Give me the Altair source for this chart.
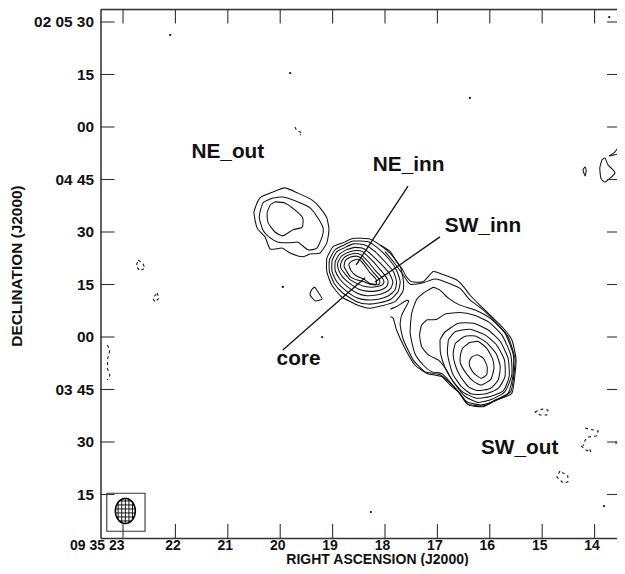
import altair as alt
import numpy as np
import pandas as pd

# Sky coordinates: RA in seconds of 09 35 xx, Dec in arcsec relative to 02 04 00
ra_ticks = [23, 22, 21, 20, 19, 18, 17, 16, 15, 14]
dec_ticks = [90, 75, 60, 45, 30, 15, 0, -15, -30, -45]
dec_tick_labels = ["02 05 30\u2005", "15", "00", "04 45\u2005", "30", "15", "00", "03 45\u2005", "30", "15"]
ra_tick_labels = ["09 35 23", "22", "21", "20", "19", "18", "17", "16", "15", "14"]
ra_domain = [23.43, 13.572]
dec_domain = [-57.43, 93.57]

out_outer = [(20.14,41.4),(19.91,42.6),(19.66,41.1),(19.39,39.1),(19.24,36.9),(19.11,34.0),(19.07,30.6),(19.11,26.9),(19.24,24.0),(19.43,23.7),(19.58,22.9),(19.81,24.0),(19.97,25.4),(20.19,25.1),(20.29,28.6),(20.44,31.1),(20.50,35.7),(20.39,39.7),(20.14,41.4)]
out_mid = [(20.14,39.7),(19.95,40.0),(19.66,38.6),(19.43,36.9),(19.28,34.0),(19.18,31.1),(19.20,28.6),(19.30,25.4),(19.47,24.9),(19.66,27.1),(19.81,26.9),(20.04,27.1),(20.19,28.3),(20.33,30.6),(20.40,34.3),(20.33,38.3),(20.14,39.7)]
out_inner = [(20.10,38.6),(19.91,38.3),(19.72,36.3),(19.57,34.0),(19.58,31.4),(19.76,30.6),(19.95,28.9),(20.10,30.0),(20.23,32.6),(20.25,35.4),(20.19,37.7),(20.10,38.6)]
knot = [(19.34,14.3),(19.28,12.9),(19.20,10.9),(19.33,10.3),(19.43,12.0),(19.39,13.7),(19.34,14.3)]

ring9 = [(18.80,26.9),(18.60,28.2),(18.29,28.0),(18.10,26.3),(17.87,23.4),(17.71,20.1),(17.65,16.3),(17.66,13.0),(17.81,10.1),(18.06,8.9),(18.29,8.2),(18.54,9.2),(18.83,11.5),(19.02,14.9),(19.11,18.7),(19.11,22.5),(18.99,25.8),(18.80,26.9)]
ring8 = [(18.78,26.3),(18.60,27.4),(18.32,27.2),(18.13,25.3),(17.94,22.5),(17.78,19.1),(17.71,15.8),(17.75,13.0),(17.89,10.8),(18.10,9.8),(18.32,9.4),(18.54,10.1),(18.80,12.5),(18.97,15.3),(19.06,18.7),(19.06,22.0),(18.95,25.0),(18.78,26.3)]
ring7 = [(18.76,25.6),(18.60,26.6),(18.38,26.3),(18.19,24.4),(18.00,21.5),(17.84,18.7),(17.78,15.8),(17.81,13.4),(17.94,11.7),(18.13,10.8),(18.35,10.6),(18.54,11.2),(18.76,13.4),(18.92,15.8),(19.01,18.7),(19.01,21.7),(18.92,24.4),(18.76,25.6)]
ring6 = [(18.74,24.9),(18.58,25.6),(18.41,25.3),(18.25,23.4),(18.06,20.6),(17.92,18.2),(17.85,15.8),(17.89,13.9),(18.00,12.7),(18.16,12.0),(18.35,11.8),(18.53,12.5),(18.72,14.4),(18.86,16.5),(18.95,19.0),(18.95,21.5),(18.87,23.7),(18.74,24.9)]
ring5 = [(18.72,24.1),(18.57,24.7),(18.43,24.4),(18.29,22.5),(18.13,19.9),(17.99,17.4),(17.94,15.8),(17.97,14.4),(18.06,13.6),(18.19,13.1),(18.35,13.1),(18.51,13.7),(18.67,15.3),(18.81,17.2),(18.89,19.3),(18.90,21.3),(18.83,23.1),(18.72,24.1)]
ring4 = [(18.70,23.4),(18.57,23.9),(18.45,23.4),(18.32,21.5),(18.19,19.1),(18.06,17.0),(18.02,15.8),(18.05,14.9),(18.15,14.4),(18.25,14.2),(18.38,14.4),(18.51,15.1),(18.66,16.3),(18.76,18.0),(18.84,19.6),(18.84,21.2),(18.78,22.7),(18.70,23.4)]
ring3 = [(18.67,22.8),(18.55,23.1),(18.45,22.5),(18.34,20.6),(18.22,18.4),(18.11,16.5),(18.10,15.3),(18.16,14.9),(18.29,15.1),(18.40,15.8),(18.53,16.3),(18.66,17.2),(18.73,18.7),(18.78,20.1),(18.76,21.8),(18.67,22.8)]
ring1 = [(18.62,21.8),(18.51,22.2),(18.41,20.9),(18.29,18.4),(18.17,16.5),(18.17,15.1),(18.29,15.3),(18.40,16.5),(18.55,17.5),(18.65,19.0),(18.69,20.8),(18.62,21.8)]

sw1 = [(18.09,26.3),(17.90,24.4),(17.78,21.5),(17.68,19.6),(17.59,17.2),(17.49,15.8),(17.27,15.8),(17.08,18.7),(16.92,18.0),(16.63,16.3),(16.50,14.4),(16.38,12.0),(16.19,9.1),(15.96,5.8),(15.74,2.5),(15.58,-0.8),(15.50,-6.1),(15.52,-10.8),(15.58,-16.1),(15.87,-18.0),(16.12,-19.9),(16.41,-19.4),(16.57,-16.1),(16.76,-13.7),(16.92,-11.3),(17.20,-10.4),(17.43,-8.0),(17.62,-3.2),(17.78,2.0),(17.84,5.3),(17.90,5.8)]
sw2 = [(18.00,24.4),(17.84,21.5),(17.65,17.7),(17.52,15.1),(17.27,15.5),(17.08,16.5),(16.95,16.3),(16.57,13.9),(16.38,10.6),(16.12,7.7),(15.87,3.9),(15.65,0.1),(15.52,-6.1),(15.54,-10.8),(15.60,-15.6),(15.87,-17.8),(16.12,-19.7),(16.43,-19.1),(16.60,-15.6),(16.79,-12.7),(16.95,-10.8),(17.24,-9.9),(17.46,-6.6),(17.65,-0.8),(17.71,3.4),(17.68,6.3),(17.55,10.1),(17.59,10.4),(17.78,8.7),(17.90,7.9)]
sw3 = [(17.08,14.2),(16.95,13.4),(16.79,11.1),(16.57,9.1),(16.28,7.7),(15.99,5.3),(15.71,1.1),(15.55,-5.1),(15.56,-11.3),(15.65,-16.1),(15.90,-18.2),(16.16,-19.4),(16.44,-18.5),(16.63,-15.1),(16.82,-11.8),(16.92,-10.4),(17.11,-9.9),(17.27,-8.0),(17.43,-4.7),(17.52,1.1),(17.49,6.8),(17.40,10.6),(17.27,12.5),(17.08,14.2)]
sw4 = [(17.20,4.9),(17.01,5.1),(16.85,6.6),(16.57,7.0),(16.31,6.3),(16.03,4.4),(15.77,0.6),(15.60,-5.1),(15.58,-10.8),(15.71,-15.6),(15.96,-17.8),(16.22,-18.7),(16.47,-17.0),(16.70,-12.7),(16.85,-8.9),(16.98,-6.6),(17.17,-5.1),(17.30,-2.8),(17.34,0.6),(17.30,3.4),(17.20,4.9)]
sw5 = [(16.95,-0.8),(16.85,1.5),(16.60,3.9),(16.31,3.9),(16.03,2.0),(15.80,-1.3),(15.65,-6.1),(15.63,-11.3),(15.74,-15.3),(15.99,-17.0),(16.25,-17.5),(16.50,-15.9),(16.70,-12.7),(16.85,-8.9),(16.94,-4.7),(16.95,-0.8)]
sw6 = [(16.79,-0.8),(16.66,1.5),(16.38,2.2),(16.09,0.6),(15.87,-2.3),(15.72,-6.6),(15.71,-11.3),(15.84,-14.7),(16.09,-16.3),(16.35,-16.3),(16.54,-14.2),(16.70,-10.8),(16.77,-7.5),(16.81,-4.2),(16.79,-0.8)]
sw7 = [(16.66,-1.8),(16.49,0.1),(16.28,0.3),(16.06,-1.6),(15.88,-4.7),(15.80,-8.5),(15.84,-12.3),(15.99,-14.7),(16.24,-15.3),(16.41,-14.2),(16.56,-11.3),(16.66,-8.0),(16.70,-4.7),(16.66,-1.8)]
sw8 = [(16.52,-3.2),(16.38,-1.6),(16.22,-1.3),(16.06,-3.2),(15.95,-6.1),(15.92,-8.9),(15.98,-12.1),(16.16,-13.7),(16.31,-12.7),(16.45,-10.4),(16.56,-7.5),(16.56,-5.1),(16.52,-3.2)]
sw9 = [(16.35,-5.8),(16.24,-5.1),(16.12,-6.1),(16.05,-8.5),(16.06,-10.8),(16.17,-11.8),(16.30,-10.4),(16.38,-8.5),(16.39,-7.0),(16.35,-5.8)]

east_a = [(13.86,50.6),(13.80,51.1),(13.74,49.1),(13.61,46.9),(13.80,44.3),(13.88,45.4),(13.90,48.3),(13.86,50.6)]
east_b = [(13.72,51.7),(13.61,52.9),(13.48,55.7)]
east_c = [(13.72,51.7),(13.46,52.6)]
east_d = [(13.46,47.1),(13.52,45.7),(13.46,44.3)]
east_e = [(14.18,48.6),(14.22,47.7),(14.18,46.0),(14.16,47.7),(14.18,48.6)]

neg1 = [(22.71,22.0),(22.62,20.9),(22.58,19.7),(22.68,18.9),(22.75,20.3),(22.71,22.0)]
neg2 = [(22.35,12.6),(22.31,11.1),(22.39,10.0),(22.43,11.1),(22.35,12.6)]
neg3 = [(23.30,-2.3),(23.25,-3.7),(23.29,-6.0),(23.30,-8.9),(23.25,-10.9),(23.30,-12.3)]
neg4 = [(15.14,-21.4),(15.00,-20.6),(14.89,-20.9),(14.91,-22.3),(15.04,-22.3),(15.14,-21.4)]
neg5 = [(14.18,-26.0),(13.93,-26.9),(13.97,-28.3),(14.14,-28.6),(14.20,-30.0),(14.22,-31.1)]
neg6 = [(14.26,-31.1),(14.16,-32.3),(14.07,-32.9),(14.11,-31.4)]
neg7 = [(14.66,-38.3),(14.72,-40.0),(14.60,-41.7),(14.51,-41.4),(14.51,-39.7),(14.66,-38.3)]
neg8 = [(19.72,60.0),(19.68,58.9),(19.58,58.3),(19.62,57.7)]
neg9 = [(13.59,-29.7),(13.59,-31.1)]

dots_ra = [22.10, 19.81, 19.20, 18.27, 13.82, 16.38, 13.72, 19.95]
dots_dec = [86.3, 75.4, 0.0, -50.0, -48.3, 68.3, 91.4, 14.3]

names = ["NE_out", "NE_inn", "SW_inn", "core", "SW_out"]
names_ra = [21.00, 17.55, 16.13, 19.65, 15.43]
names_dec = [52.9, 49.1, 31.7, -6.3, -31.7]

leader_ra = [17.56, 16.95, 18.38]
leader_dec = [43.1, 28.6, 16.9]
leader_ra2 = [18.55, 18.19, 19.95]
leader_dec2 = [20.6, 15.7, -3.7]

beam_box_ra = [23.31, 22.58]
beam_box_dec = [-44.66, -55.5]
beam_ra, beam_dec = 22.956, -49.7
beam_semi_ra, beam_semi_dec = 0.19, 3.57

solid = dict(out_outer=out_outer, out_mid=out_mid, out_inner=out_inner, knot=knot,
             ring9=ring9, ring8=ring8, ring7=ring7, ring6=ring6, ring5=ring5, ring4=ring4, ring3=ring3, ring1=ring1,
             sw1=sw1, sw2=sw2, sw3=sw3, sw4=sw4, sw5=sw5, sw6=sw6, sw7=sw7, sw8=sw8, sw9=sw9,
             east_a=east_a, east_b=east_b, east_c=east_c, east_d=east_d, east_e=east_e)
dashed = dict(neg1=neg1, neg2=neg2, neg3=neg3, neg4=neg4, neg5=neg5, neg6=neg6, neg7=neg7, neg8=neg8, neg9=neg9)


def frame(contours):
    rows = []
    for name, pts in contours.items():
        for i, (r, d) in enumerate(pts):
            rows.append(dict(c=name, i=i, ra=r, dec=d))
    return pd.DataFrame(rows)


FONT = "Liberation Sans"
INK = "#111111"
xs = alt.Scale(domain=ra_domain, nice=False, zero=False)
ys = alt.Scale(domain=dec_domain, nice=False, zero=False)
dec_top, dec_bot = dec_domain[1], dec_domain[0]

ra_expr = "[" + ",".join(f'"{t}"' for t in ra_tick_labels) + "][indexof(" + str(ra_ticks) + ",datum.value)]"
dec_expr = "[" + ",".join(f'"{t}"' for t in dec_tick_labels) + "][indexof(" + str(dec_ticks) + ",datum.value)]"

x_axis = alt.Axis(values=ra_ticks, labelExpr=ra_expr, grid=False, ticks=False, tickSize=0,
                  domainColor="#333333", domainWidth=1.5, labelFont=FONT, labelFontWeight="bold",
                  labelFontSize=14.0, labelColor=INK, labelPadding=0, labelOverlap=False, labelFlush=False,
                  labelAlign={"condition": {"test": "datum.value == 23", "value": "right"}, "value": "center"},
                  labelOffset={"condition": {"test": "datum.value == 23", "value": 1}, "value": -3},
                  title="RIGHT ASCENSION (J2000)", titleFont=FONT, titleFontWeight="bold", titleFontSize=14.0,
                  titleColor=INK, titlePadding=0, titleY=14, titleX=276.5)
y_axis = alt.Axis(values=dec_ticks, labelExpr=dec_expr, grid=False, ticks=False, tickSize=0,
                  domainColor="#333333", domainWidth=1.5, labelFont=FONT, labelFontWeight="bold",
                  labelFontSize=15.4, labelColor=INK, labelPadding=7, labelOverlap=False, labelFlush=False,
                  title="DECLINATION (J2000)", titleFont=FONT, titleFontWeight="bold", titleFontSize=15.4,
                  titleColor=INK, titleX=-76, titleY=256)

X = alt.X("ra:Q", scale=xs, axis=x_axis)
Y = alt.Y("dec:Q", scale=ys, axis=y_axis)

solid_layer = alt.Chart(frame(solid)).mark_line(color=INK, strokeWidth=1.05, clip=True,
                                                interpolate="cardinal", tension=0.45).encode(
    x=X, y=Y, detail="c:N", order="i:Q")
dashed_layer = alt.Chart(frame(dashed)).mark_line(color=INK, strokeWidth=1.05, strokeDash=[3, 3], clip=True).encode(
    x=X, y=Y, detail="c:N", order="i:Q")
dots_layer = alt.Chart(pd.DataFrame(dict(ra=dots_ra, dec=dots_dec))).mark_circle(color=INK, size=5, opacity=1).encode(x=X, y=Y)

names_layer = alt.Chart(pd.DataFrame(dict(ra=names_ra, dec=names_dec, t=names))).mark_text(
    font=FONT, fontWeight="bold", fontSize=20.8, color=INK).encode(x=X, y=Y, text="t:N")

leaders = alt.Chart(pd.DataFrame(dict(ra=leader_ra, dec=leader_dec, ra2=leader_ra2, dec2=leader_dec2))).mark_rule(
    color=INK, strokeWidth=1.3).encode(x=X, y=Y, x2="ra2:Q", y2="dec2:Q")

# Inward ticks and the top of the frame
tick_dec = 4.0
tick_ra = 0.267
tick_ra_right = 0.19
top_ticks = pd.DataFrame(dict(ra=ra_ticks, dec=dec_top, dec2=dec_top - tick_dec))
bot_ticks = pd.DataFrame(dict(ra=ra_ticks, dec=dec_bot, dec2=dec_bot + tick_dec))
left_ticks = pd.DataFrame(dict(dec=dec_ticks, ra=ra_domain[0], ra2=ra_domain[0] - tick_ra))
right_ticks = pd.DataFrame(dict(dec=dec_ticks, ra=ra_domain[1], ra2=ra_domain[1] + tick_ra_right))
top_edge = pd.DataFrame(dict(dec=[dec_top], ra=[ra_domain[0]], ra2=[ra_domain[1]]))

tick_style = dict(color="#333333", strokeWidth=1.1)
v_ticks = alt.Chart(pd.concat([top_ticks, bot_ticks])).mark_rule(**tick_style).encode(x=X, y=Y, y2="dec2:Q")
h_ticks = alt.Chart(pd.concat([left_ticks, right_ticks])).mark_rule(**tick_style).encode(x=X, y=Y, x2="ra2:Q")
top_line = alt.Chart(top_edge).mark_rule(color="#333333", strokeWidth=1.5).encode(x=X, y=Y, x2="ra2:Q")

# Beam inset
box = pd.DataFrame(dict(ra=[beam_box_ra[0], beam_box_ra[1], beam_box_ra[1], beam_box_ra[0], beam_box_ra[0]],
                        dec=[beam_box_dec[0], beam_box_dec[0], beam_box_dec[1], beam_box_dec[1], beam_box_dec[0]],
                        i=range(5)))
box_layer = alt.Chart(box).mark_line(color="#333333", strokeWidth=1.1).encode(x=X, y=Y, order="i:Q")
t = np.linspace(0, 2 * np.pi, 49)
ellipse = pd.DataFrame(dict(ra=beam_ra + beam_semi_ra * np.cos(t), dec=beam_dec + beam_semi_dec * np.sin(t), i=range(49)))
ellipse_layer = alt.Chart(ellipse).mark_line(color="#000000", strokeWidth=1.6).encode(x=X, y=Y, order="i:Q")
fr = np.array([-0.72, -0.36, 0.0, 0.36, 0.72])
fd = np.array([-0.8, -0.48, -0.16, 0.16, 0.48, 0.8])
hatch_v = pd.DataFrame(dict(ra=beam_ra + beam_semi_ra * fr, dec=beam_dec + beam_semi_dec * np.sqrt(1 - fr ** 2),
                            dec2=beam_dec - beam_semi_dec * np.sqrt(1 - fr ** 2)))
hatch_h = pd.DataFrame(dict(dec=beam_dec + beam_semi_dec * fd, ra=beam_ra + beam_semi_ra * np.sqrt(1 - fd ** 2),
                            ra2=beam_ra - beam_semi_ra * np.sqrt(1 - fd ** 2)))
hv_layer = alt.Chart(hatch_v).mark_rule(color="#000000", strokeWidth=0.9).encode(x=X, y=Y, y2="dec2:Q")
hh_layer = alt.Chart(hatch_h).mark_rule(color="#000000", strokeWidth=0.9).encode(x=X, y=Y, x2="ra2:Q")

chart = alt.layer(solid_layer, dashed_layer, dots_layer, leaders, names_layer, v_ticks, h_ticks, top_line,
                  box_layer, ellipse_layer, hv_layer, hh_layer).properties(
    width=516.5, height=528.5,
    autosize=alt.AutoSizeParams(type="none"),
    padding={"left": 92.5, "top": 1.5, "right": 0, "bottom": 28},
).configure_view(stroke=None).configure(background="white")

chart.save("out.html", embed_options={"renderer": "svg", "actions": False})
